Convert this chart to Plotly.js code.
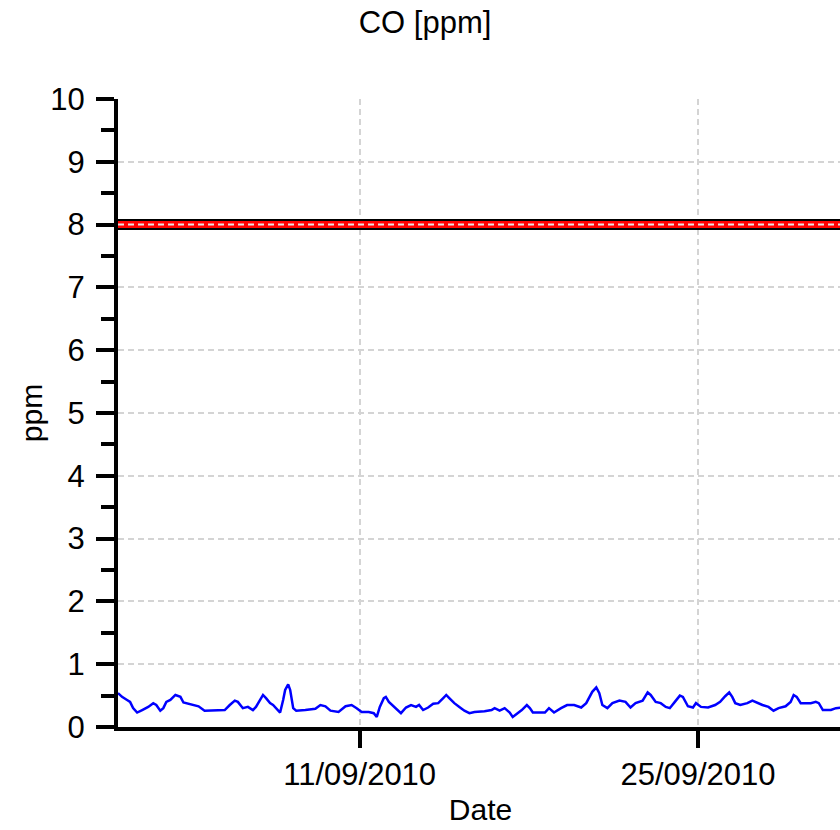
<!DOCTYPE html>
<html>
<head>
<meta charset="utf-8">
<script src="https://cdn.plot.ly/plotly-3.0.1.min.js"></script>
<style>
html, body { margin: 0; padding: 0; overflow: hidden; background: #fff; }
#chart { width: 850px; height: 830px; }
</style>
</head>
<body>
<div id="chart"></div>
<script>
// ---- data ----
const chartTitle = 'CO [ppm]';
const xTitle = 'Date';
const yTitle = 'ppm';
const limitValue = 8;
const xStart = '2010-09-01 00:00';
const xEnd = '2010-10-01 00:00';
const firstTick = '2010-09-11';
const yMax = 10;

const times = [
  '2010-09-01 00:00','2010-09-01 04:00','2010-09-01 09:00','2010-09-01 12:00','2010-09-01 15:00','2010-09-01 19:00',
  '2010-09-02 00:00','2010-09-02 06:00','2010-09-02 11:00','2010-09-02 14:00','2010-09-02 18:00','2010-09-02 21:00',
  '2010-09-03 00:00','2010-09-03 04:00','2010-09-03 09:00','2010-09-03 14:00','2010-09-03 17:00',
  '2010-09-04 00:00','2010-09-04 08:00','2010-09-04 14:00',
  '2010-09-05 00:00','2010-09-05 10:00','2010-09-05 15:00','2010-09-05 20:00','2010-09-05 23:00',
  '2010-09-06 04:00','2010-09-06 09:00','2010-09-06 14:00','2010-09-06 17:00','2010-09-06 21:00',
  '2010-09-07 00:00','2010-09-07 03:00','2010-09-07 07:00','2010-09-07 10:00','2010-09-07 13:00','2010-09-07 17:00','2010-09-07 20:00','2010-09-07 22:00',
  '2010-09-08 01:00','2010-09-08 03:00','2010-09-08 06:00','2010-09-08 09:00','2010-09-08 18:00',
  '2010-09-09 04:00','2010-09-09 09:00','2010-09-09 14:00','2010-09-09 19:00',
  '2010-09-10 03:00','2010-09-10 10:00','2010-09-10 16:00','2010-09-10 21:00',
  '2010-09-11 02:00','2010-09-11 09:00','2010-09-11 14:00','2010-09-11 17:00','2010-09-11 20:00',
  '2010-09-12 00:00','2010-09-12 02:00','2010-09-12 05:00','2010-09-12 10:00','2010-09-12 14:00','2010-09-12 17:00','2010-09-12 22:00',
  '2010-09-13 03:00','2010-09-13 08:00','2010-09-13 11:00','2010-09-13 15:00','2010-09-13 20:00',
  '2010-09-14 01:00','2010-09-14 06:00','2010-09-14 11:00','2010-09-14 14:00','2010-09-14 17:00','2010-09-14 22:00',
  '2010-09-15 03:00','2010-09-15 08:00','2010-09-15 13:00','2010-09-15 18:00',
  '2010-09-16 04:00','2010-09-16 11:00','2010-09-16 14:00','2010-09-16 19:00',
  '2010-09-17 00:00','2010-09-17 05:00','2010-09-17 08:00','2010-09-17 13:00','2010-09-17 17:00','2010-09-17 22:00',
  '2010-09-18 01:00','2010-09-18 04:00','2010-09-18 16:00','2010-09-18 20:00',
  '2010-09-19 01:00','2010-09-19 08:00','2010-09-19 14:00','2010-09-19 21:00',
  '2010-09-20 04:00','2010-09-20 09:00','2010-09-20 12:00','2010-09-20 15:00','2010-09-20 19:00','2010-09-20 22:00',
  '2010-09-21 01:00','2010-09-21 06:00','2010-09-21 11:00','2010-09-21 18:00',
  '2010-09-22 00:00','2010-09-22 05:00','2010-09-22 10:00','2010-09-22 17:00','2010-09-22 22:00',
  '2010-09-23 01:00','2010-09-23 06:00','2010-09-23 11:00','2010-09-23 16:00','2010-09-23 20:00',
  '2010-09-24 01:00','2010-09-24 06:00','2010-09-24 09:00','2010-09-24 14:00','2010-09-24 19:00','2010-09-24 22:00',
  '2010-09-25 03:00','2010-09-25 10:00','2010-09-25 17:00','2010-09-25 22:00',
  '2010-09-26 03:00','2010-09-26 07:00','2010-09-26 10:00','2010-09-26 13:00','2010-09-26 18:00',
  '2010-09-27 01:00','2010-09-27 06:00','2010-09-27 11:00','2010-09-27 16:00','2010-09-27 22:00',
  '2010-09-28 03:00','2010-09-28 08:00','2010-09-28 15:00','2010-09-28 20:00','2010-09-28 23:00',
  '2010-09-29 02:00','2010-09-29 06:00','2010-09-29 16:00','2010-09-29 21:00',
  '2010-09-30 00:00','2010-09-30 04:00','2010-09-30 12:00','2010-09-30 17:00','2010-09-30 22:00'
];

const coValues = [
  0.54,0.48,0.43,0.40,0.30,0.23,
  0.27,0.32,0.38,0.35,0.26,0.30,
  0.40,0.43,0.51,0.48,0.39,
  0.36,0.33,0.26,
  0.27,0.27,0.35,0.42,0.40,
  0.30,0.32,0.27,0.32,0.43,
  0.51,0.46,0.38,0.35,0.30,0.23,0.43,0.59,
  0.68,0.59,0.30,0.26,0.27,
  0.29,0.35,0.33,0.26,
  0.24,0.33,0.35,0.30,
  0.24,0.24,0.22,0.16,0.32,
  0.46,0.48,0.40,0.32,0.27,0.22,0.31,
  0.35,0.32,0.35,0.27,0.31,
  0.37,0.38,0.46,0.51,0.46,0.38,
  0.32,0.26,0.22,0.24,
  0.25,0.27,0.30,0.26,
  0.30,0.23,0.16,0.22,0.27,0.35,
  0.30,0.23,0.23,0.30,
  0.23,0.30,0.35,0.35,
  0.31,0.38,0.48,0.56,0.63,0.54,
  0.35,0.30,0.38,0.42,
  0.40,0.31,0.38,0.42,0.55,
  0.51,0.40,0.38,0.32,0.30,
  0.40,0.50,0.48,0.33,0.31,0.38,
  0.32,0.31,0.35,0.40,
  0.49,0.55,0.48,0.38,0.35,
  0.38,0.42,0.38,0.35,0.32,
  0.26,0.30,0.33,0.40,0.51,
  0.48,0.38,0.38,0.40,
  0.38,0.27,0.27,0.30,0.31
];

// ---- chart ----
const fontFamily = '"Liberation Sans", Arial, sans-serif';

const traces = [{
  type: 'scatter',
  mode: 'lines',
  x: times,
  y: coValues,
  line: { color: '#0000ff', width: 2.5 },
  hoverinfo: 'skip',
  showlegend: false
}];

const layout = {
  width: 850,
  height: 830,
  margin: { l: 118, r: 7, t: 99, b: 103 },
  paper_bgcolor: '#ffffff',
  plot_bgcolor: '#ffffff',
  font: { family: fontFamily, color: '#000000', size: 30 },
  title: {
    text: chartTitle,
    font: { family: fontFamily, size: 31, color: '#000' },
    x: 0.5, xref: 'container', xanchor: 'center',
    y: 1 - 22 / 830, yref: 'container', yanchor: 'middle'
  },
  xaxis: {
    type: 'date',
    range: [xStart, xEnd],
    tick0: firstTick,
    dtick: 14 * 86400000,
    tickformat: '%d/%m/%Y',
    ticks: 'outside',
    ticklen: 17,
    tickwidth: 4,
    tickcolor: '#000',
    ticklabelstandoff: 0,
    tickfont: { family: fontFamily, size: 31, color: '#000' },
    showline: true,
    linecolor: '#000',
    linewidth: 4,
    showgrid: true,
    gridcolor: '#d4d4d4',
    gridwidth: 2,
    griddash: '6px,4px',
    zeroline: false,
    title: { text: xTitle, font: { family: fontFamily, size: 30, color: '#000' }, standoff: 9 }
  },
  yaxis: {
    range: [0, yMax],
    dtick: 1,
    tick0: 0,
    ticks: 'outside',
    ticklen: 18,
    tickwidth: 4,
    tickcolor: '#000',
    ticklabelstandoff: 5,
    tickfont: { family: fontFamily, size: 31, color: '#000' },
    showline: true,
    linecolor: '#000',
    linewidth: 4,
    showgrid: true,
    gridcolor: '#d4d4d4',
    gridwidth: 2,
    griddash: '6px,4px',
    zeroline: false,
    minor: { dtick: 0.5, ticks: 'outside', ticklen: 13, tickwidth: 4, tickcolor: '#000', showgrid: false },
    title: { text: yTitle, font: { family: fontFamily, size: 30, color: '#000' }, standoff: 0 }
  },
  shapes: [
    { type: 'line', xref: 'paper', x0: 0, x1: 1, yref: 'y', y0: limitValue, y1: limitValue,
      line: { color: '#000000', width: 11 }, layer: 'above' },
    { type: 'line', xref: 'paper', x0: 0, x1: 1, yref: 'y', y0: limitValue, y1: limitValue,
      line: { color: '#ff0000', width: 7 }, layer: 'above' },
    { type: 'line', xref: 'paper', x0: 0, x1: 1, yref: 'y', y0: limitValue, y1: limitValue,
      line: { color: '#e6e6e6', width: 2, dash: '6px,4px' }, layer: 'above' }
  ]
};

Plotly.newPlot('chart', traces, layout, { displayModeBar: false, staticPlot: true });
</script>
</body>
</html>
